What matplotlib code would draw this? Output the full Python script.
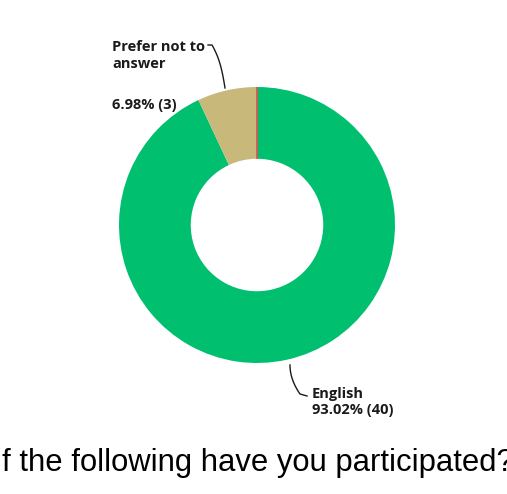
import matplotlib.pyplot as plt
import numpy as np

# --- data ---
labels = ["English", "Prefer not to answer"]
counts = [40, 3]
percents = [93.02, 6.98]
colors = ["#00BF6F", "#C8B87A"]
title_text = "f the following have you participated?"

W, H = 507, 494
fig = plt.figure(figsize=(W / 100, H / 100), dpi=100)

# donut axes: centre (257, 225) px, outer radius 138 px
cx, cy, r = 257, 225, 138
ax = fig.add_axes([(cx - r) / W, 1 - (cy + r) / H, 2 * r / W, 2 * r / H])
wedges, _ = ax.pie(counts, colors=colors, startangle=90, counterclock=False,
                   radius=1.0, wedgeprops=dict(width=0.52, linewidth=0))
ax.set_xlim(-1, 1)
ax.set_ylim(-1, 1)
ax.set_aspect("equal")
ax.axis("off")

# thin red marker at the start of the pie (zero-size slice)
th = np.deg2rad(90)
ax.plot([0.48 * np.cos(th), 1.0 * np.cos(th)], [0.48 * np.sin(th), 1.0 * np.sin(th)],
        color="#D9534F", lw=1.2, solid_capstyle="butt")

font = dict(family=["Open Sans", "DejaVu Sans"], fontweight="bold", color="#1a1a1a",
            fontsize=10.5)


def px(x, y):
    # figure pixel coords -> figure fraction
    return np.asarray(x, float) / W, 1 - np.asarray(y, float) / H


fig.text(*px(112, 40), "Prefer not to\nanswer", va="top", ha="left", linespacing=1.25, **font)
fig.text(*px(112, 98), f"{percents[1]:.2f}% ({counts[1]})", va="top", ha="left", **font)
fig.text(*px(312, 387), f"{labels[0]}\n{percents[0]:.2f}% ({counts[0]})", va="top", ha="left",
         linespacing=1.2, **font)

# leader lines
t = np.linspace(0, 1, 30)
x1 = np.concatenate([[208], 212 + 6 * (1 - (1 - t) ** 3) + 7 * t])
y1 = np.concatenate([[45], 45 + 43 * t])
fig.add_artist(plt.Line2D(*px(x1, y1), color="#1a1a1a", lw=1.0))
x2 = np.append(290 + 10 * t ** 2, 307)
y2 = np.append(365 + 29 * t, 396)
fig.add_artist(plt.Line2D(*px(x2, y2), color="#1a1a1a", lw=1.0))

fig.text(*px(2, 463), title_text, ha="left", va="center", fontsize=22.3,
         family="Liberation Sans", color="black")

fig.savefig("out.png", dpi=100)
